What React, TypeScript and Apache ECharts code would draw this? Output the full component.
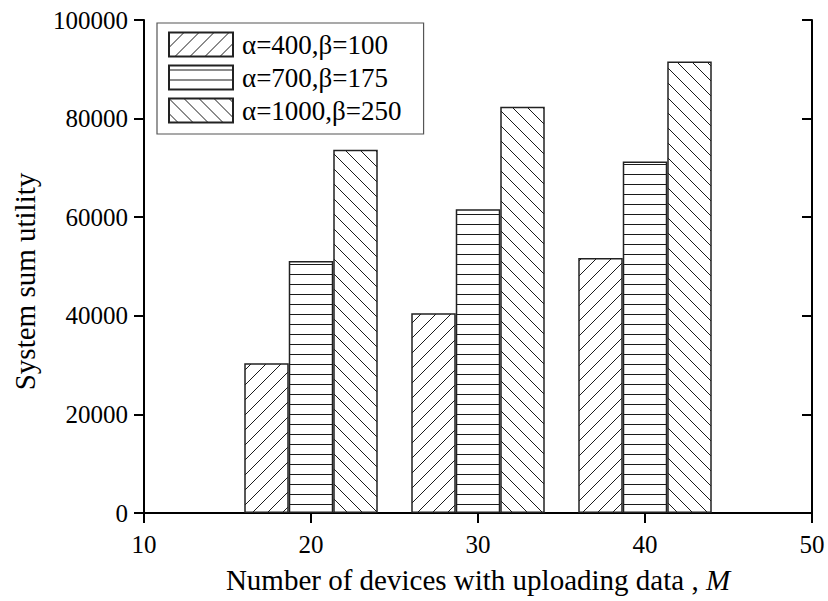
import React, { useEffect, useRef } from "react";
import * as echarts from "echarts";

const deviceCounts = [20, 30, 40];
const seriesNames = ["α=400,β=100", "α=700,β=175", "α=1000,β=250"];
const utilityA400 = [30400, 40500, 51700];
const utilityA700 = [51100, 61600, 71300];
const utilityA1000 = [73700, 82400, 91600];
const xTicks = [10, 20, 30, 40, 50];
const yTicks = [0, 20000, 40000, 60000, 80000, 100000];

const FONT = "'Liberation Serif', 'Times New Roman', serif";

type Hatch = "slash" | "horizontal" | "backslash";

// Builds a small repeating tile used as the bar fill
function makeHatch(kind: Hatch) {
  const c = document.createElement("canvas");
  const ink = "#1a1a1a";
  if (kind === "horizontal") {
    c.width = 10;
    c.height = 10;
    const g = c.getContext("2d")!;
    g.fillStyle = "#fff";
    g.fillRect(0, 0, 10, 10);
    g.fillStyle = ink;
    g.fillRect(0, 4, 10, 1);
  } else {
    const s = 15;
    c.width = s;
    c.height = s;
    const g = c.getContext("2d")!;
    g.fillStyle = "#fff";
    g.fillRect(0, 0, s, s);
    g.strokeStyle = ink;
    g.lineWidth = 1;
    g.beginPath();
    if (kind === "slash") {
      g.moveTo(-2, s + 2);
      g.lineTo(s + 2, -2);
      g.moveTo(-2, 2);
      g.lineTo(2, -2);
      g.moveTo(s - 2, s + 2);
      g.lineTo(s + 2, s - 2);
    } else {
      g.moveTo(-2, -2);
      g.lineTo(s + 2, s + 2);
      g.moveTo(s - 2, -2);
      g.lineTo(s + 2, 2);
      g.moveTo(-2, s - 2);
      g.lineTo(2, s + 2);
    }
    g.stroke();
  }
  return { image: c, repeat: "repeat" as const };
}

export default function App() {
  const ref = useRef<HTMLDivElement>(null);

  useEffect(() => {
    if (!ref.current) return;
    const chart = echarts.init(ref.current, undefined, { renderer: "svg" });

    const hatches: Hatch[] = ["slash", "horizontal", "backslash"];
    const values = [utilityA400, utilityA700, utilityA1000];

    const axisLine = { show: true, lineStyle: { color: "#000", width: 2 } };
    const labelStyle = { color: "#000", fontFamily: FONT, fontSize: 25 };
    const tickStyle = { color: "#000", width: 2 };

    chart.setOption({
      animation: false,
      backgroundColor: "#fff",
      grid: {
        left: 144,
        right: 16,
        top: 20,
        bottom: 88,
        outerBoundsMode: "none",
      },
      legend: {
        orient: "vertical",
        left: 157,
        top: 23,
        itemWidth: 64,
        itemHeight: 24,
        itemGap: 6,
        padding: [8, 22, 10, 11],
        borderColor: "#555",
        borderWidth: 1.2,
        backgroundColor: "#fff",
        icon: "rect",
        textStyle: { ...labelStyle, fontSize: 27, padding: [0, 0, 0, 4] },
        data: seriesNames,
      },
      xAxis: [
        {
          type: "value",
          position: "bottom",
          min: 10,
          max: 50,
          interval: 10,
          axisLine,
          axisTick: { show: true, inside: false, length: 10, lineStyle: tickStyle },
          axisLabel: { ...labelStyle, margin: 19, customValues: xTicks, formatter: (v: number) => String(v) },
          splitLine: { show: false },
          name: "Number of devices with uploading data , {i|M}",
          nameLocation: "middle",
          nameGap: 52,
          nameTextStyle: {
            color: "#000",
            fontFamily: FONT,
            fontSize: 29,
            rich: { i: { fontFamily: FONT, fontSize: 29, fontStyle: "italic", color: "#000" } },
          },
        },
        {
          type: "value",
          position: "top",
          min: 10,
          max: 50,
          interval: 10,
          axisLine,
          axisTick: { show: true, inside: true, length: 10, lineStyle: tickStyle },
          axisLabel: { show: false },
          splitLine: { show: false },
        },
      ],
      yAxis: [
        {
          type: "value",
          position: "left",
          min: 0,
          max: 100000,
          interval: 20000,
          axisLine,
          axisTick: { show: true, inside: false, length: 10, lineStyle: tickStyle },
          axisLabel: { ...labelStyle, margin: 16, customValues: yTicks, formatter: (v: number) => String(v) },
          splitLine: { show: false },
          name: "System sum utility",
          nameLocation: "middle",
          nameGap: 105,
          nameTextStyle: { color: "#000", fontFamily: FONT, fontSize: 29, padding: [0, 30, 0, 0] },
        },
        {
          type: "value",
          position: "right",
          min: 0,
          max: 100000,
          interval: 20000,
          axisLine,
          axisTick: { show: true, inside: true, length: 10, lineStyle: tickStyle },
          axisLabel: { show: false },
          splitLine: { show: false },
        },
      ],
      series: seriesNames.map((name, i) => ({
        name,
        type: "bar",
        xAxisIndex: 0,
        yAxisIndex: 0,
        barWidth: 44.5,
        barGap: "0%",
        itemStyle: {
          color: makeHatch(hatches[i]),
          borderColor: "#222",
          borderWidth: 1.5,
        },
        emphasis: { disabled: true },
        data: deviceCounts.map((m, j) => [m, values[i][j]]),
      })),
    });

    return () => chart.dispose();
  }, []);

  return (
    <div
      ref={ref}
      style={{ position: "absolute", left: 0, top: 0, width: 828, height: 601 }}
    />
  );
}
